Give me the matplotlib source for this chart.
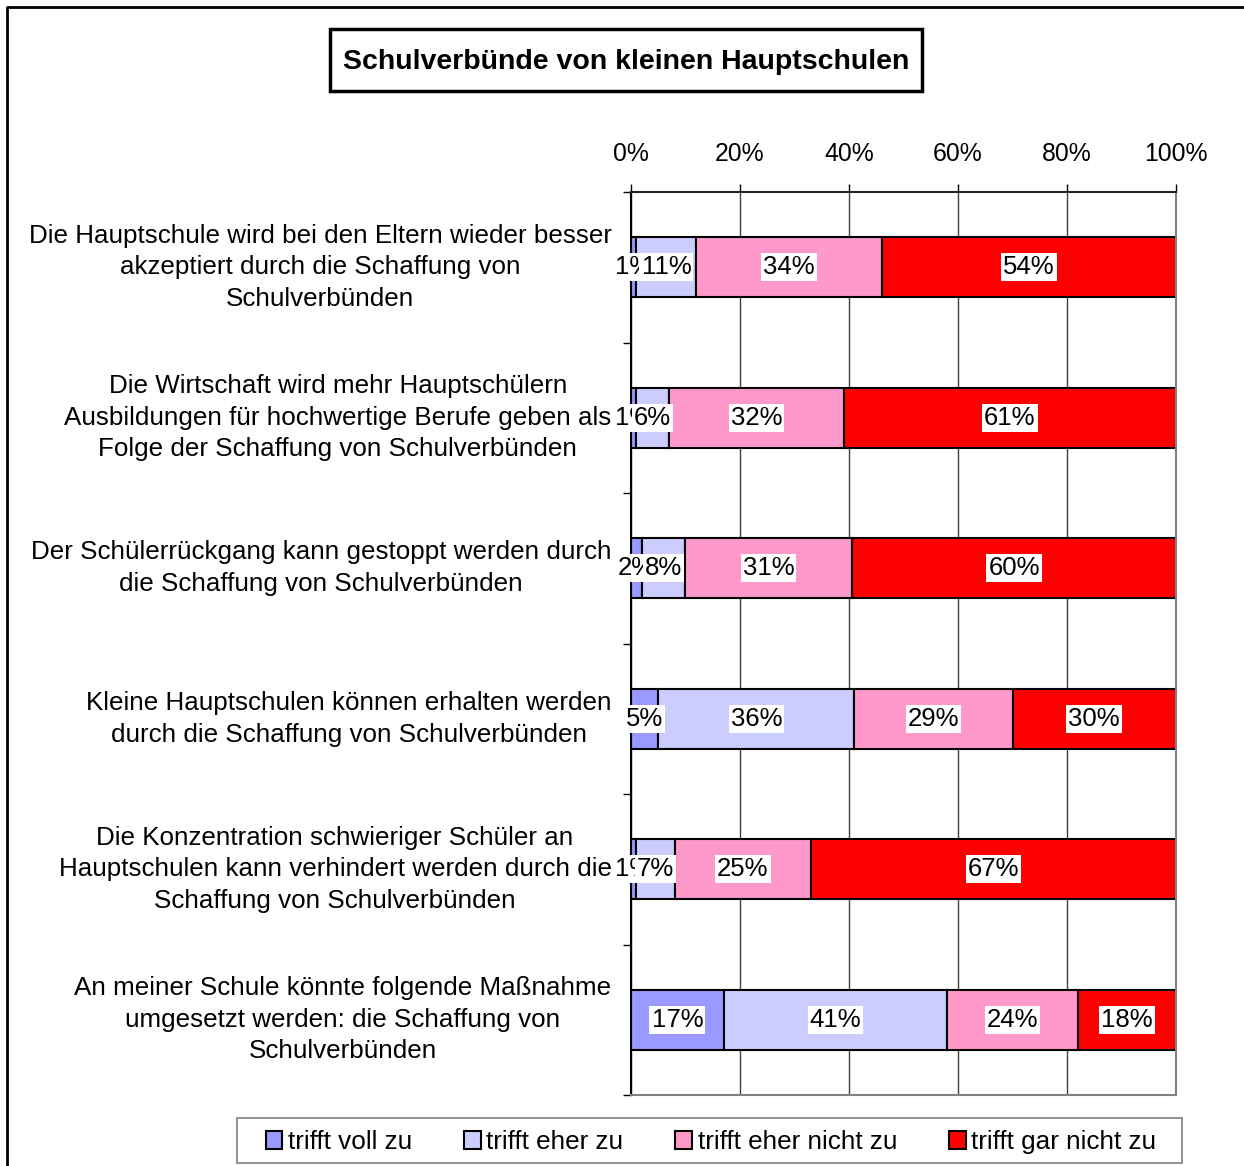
#Schulverbuende von kleinen Hauptschulen - 100% stacked bar chart

import matplotlib.pyplot as plt
import numpy as np
from matplotlib.patches import Patch, Rectangle
from matplotlib.lines import Line2D

plt.rcParams['font.family'] = ['Liberation Sans', 'DejaVu Sans']

Categories = ['Die Hauptschule wird bei den Eltern wieder besser\nakzeptiert durch die Schaffung von\nSchulverbünden',
	'Die Wirtschaft wird mehr Hauptschülern\nAusbildungen für hochwertige Berufe geben als\nFolge der Schaffung von Schulverbünden',
	'Der Schülerrückgang kann gestoppt werden durch\ndie Schaffung von Schulverbünden',
	'Kleine Hauptschulen können erhalten werden\ndurch die Schaffung von Schulverbünden',
	'Die Konzentration schwieriger Schüler an\nHauptschulen kann verhindert werden durch die\nSchaffung von Schulverbünden',
	'An meiner Schule könnte folgende Maßnahme\numgesetzt werden: die Schaffung von\nSchulverbünden']

SeriesNames = ['trifft voll zu', 'trifft eher zu', 'trifft eher nicht zu', 'trifft gar nicht zu']
VollZu = [1, 1, 2, 5, 1, 17]
EherZu = [11, 6, 8, 36, 7, 41]
EherNicht = [34, 32, 31, 29, 25, 24]
GarNicht = [54, 61, 60, 30, 67, 18]
Colors = ['#9999FF', '#CCCCFF', '#FF99CC', '#FF0000']

XTicks = [0, 20, 40, 60, 80, 100]
XTickLabels = ['0%', '20%', '40%', '60%', '80%', '100%']

W = 1244.0
H = 1166.0

fig = plt.figure(figsize=(12.44, 11.66), dpi=100)
ax = fig.add_axes([631/W, 1-1095/H, (1176-631)/W, (1095-192)/H])

data = np.array([VollZu, EherZu, EherNicht, GarNicht], dtype=float)
share = data / data.sum(axis=0) * 100
ypos = np.arange(len(Categories))

left = np.zeros(len(Categories))
for i in range(len(SeriesNames)):
	ax.barh(ypos, share[i], left=left, height=0.4, color=Colors[i],
		edgecolor='black', linewidth=1.5, label=SeriesNames[i], zorder=2)
	for j in range(len(Categories)):
		ax.text(left[j] + share[i][j]/2, ypos[j], '%d%%' % data[i][j],
			ha='center', va='center', fontsize=18.5, zorder=3+i,
			bbox=dict(boxstyle='square,pad=0.08', facecolor='white', edgecolor='none'))
	left = left + share[i]

ax.set_xlim(0, 100)
ax.set_ylim(len(Categories)-0.5, -0.5)

ax.xaxis.tick_top()
ax.set_xticks(XTicks)
ax.set_xticklabels(XTickLabels, fontsize=17.8)
ax.tick_params(axis='x', direction='out', length=6, width=1, pad=12.5)

ax.set_yticks(ypos)
ax.set_yticklabels(Categories, fontsize=18.75, va='center')
ax.tick_params(axis='y', which='major', length=0, pad=14)
ax.set_yticks(np.arange(len(Categories)+1) - 0.5, minor=True)
ax.tick_params(axis='y', which='minor', direction='out', length=6, width=1)
for lbl in ax.get_yticklabels():
	lbl.set_multialignment('center')
	lbl.set_linespacing(1.4)

ax.grid(axis='x', color='#404040', linewidth=1, zorder=0)
ax.set_axisbelow(True)

ax.spines['left'].set_color('black')
ax.spines['top'].set_color('#202020')
ax.spines['right'].set_color('#808080')
ax.spines['bottom'].set_color('#808080')
for s in ax.spines.values():
	s.set_linewidth(1.5)

# legend, frame drawn separately
handles = [Patch(facecolor=c, edgecolor='black', linewidth=1.5) for c in Colors]
fig.legend(handles, SeriesNames, loc='center', bbox_to_anchor=(711/W, 1-1142/H),
	ncol=4, fontsize=18.8, frameon=False,
	handlelength=0.65, handleheight=0.65, handletextpad=0.2, columnspacing=2.0,
	borderpad=0, borderaxespad=0)
fig.patches.append(Rectangle((237/W, 1-1163/H), (1182-237)/W, (1163-1118)/H,
	transform=fig.transFigure, fill=False, edgecolor='#808080', linewidth=1.2))

# title box
fig.text(626/W, 1-62/H, 'Schulverbünde von kleinen Hauptschulen', ha='center', va='center',
	fontsize=20.5, fontweight='bold')
fig.patches.append(Rectangle((330/W, 1-91/H), (922-330)/W, (91-29)/H,
	transform=fig.transFigure, fill=False, edgecolor='black', linewidth=2.5))

# outer frame
fig.add_artist(Line2D([7/W, 7/W, 1], [0, 1-7/H, 1-7/H], color='black', linewidth=2))

plt.savefig('out.png', dpi=100)
plt.close()
